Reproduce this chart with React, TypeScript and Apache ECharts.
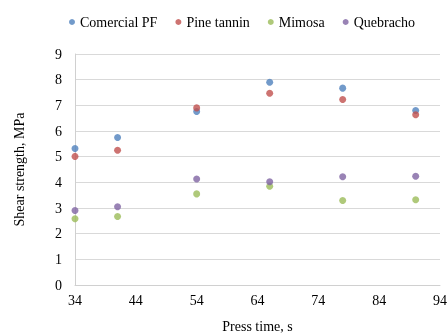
import React, { useEffect, useRef } from "react";
import * as echarts from "echarts";

const pressTime = [34, 41, 54, 66, 78, 90];
const comercialPF = [5.32, 5.75, 6.76, 7.9, 7.67, 6.8];
const pineTannin = [5.01, 5.25, 6.9, 7.47, 7.23, 6.63];
const mimosa = [2.58, 2.67, 3.55, 3.85, 3.29, 3.32];
const quebracho = [2.9, 3.05, 4.13, 4.02, 4.22, 4.24];
const seriesNames = ["Comercial PF", "Pine tannin", "Mimosa", "Quebracho"];
const colors = ["#4F81BD", "#C0504D", "#9BBB59", "#8064A2"];
const xStart = 34;

export default function App() {
  const ref = useRef<HTMLDivElement>(null);
  useEffect(() => {
    if (!ref.current) return;
    const chart = echarts.init(ref.current, null, { renderer: "svg" });
    const all = [comercialPF, pineTannin, mimosa, quebracho];
    const font = "Liberation Serif";
    chart.setOption({
      animation: false,
      color: colors,
      textStyle: { fontFamily: font },
      legend: {
        top: 10,
        left: 64,
        icon: "circle",
        itemWidth: 6,
        itemHeight: 6,
        itemGap: 18,
        textStyle: { fontFamily: font, fontSize: 14, color: "#000" },
        data: seriesNames,
      },
      grid: {
        left: 75,
        right: 7,
        top: 54,
        bottom: 50,
        containLabel: false,
        outerBoundsMode: "none",
      },
      xAxis: {
        type: "value",
        min: 0,
        max: 60,
        interval: 10,
        name: "Press time, s",
        nameLocation: "middle",
        nameGap: 34,
        nameTextStyle: { fontFamily: font, fontSize: 14, color: "#000" },
        axisLine: { show: true, lineStyle: { color: "#d0d0d0" } },
        axisTick: { show: false },
        splitLine: { show: false },
        axisLabel: {
          formatter: (v: number) => String(v + xStart),
          fontFamily: font,
          fontSize: 14,
          color: "#000",
          margin: 8,
        },
      },
      yAxis: {
        type: "value",
        min: 0,
        max: 9,
        interval: 1,
        name: "Shear strength, MPa",
        nameLocation: "middle",
        nameGap: 49,
        nameTextStyle: { fontFamily: font, fontSize: 14, color: "#000" },
        axisLine: { show: true, lineStyle: { color: "#d0d0d0" } },
        axisTick: { show: false },
        splitLine: { show: true, lineStyle: { color: "#d9d9d9" } },
        axisLabel: { fontFamily: font, fontSize: 14, color: "#000", margin: 13 },
      },
      series: all.map((vals, i) => ({
        name: seriesNames[i],
        type: "scatter",
        symbol: "circle",
        symbolSize: 7,
        data: vals.map((v, j) => [pressTime[j] - xStart, v]),
      })),
    });
    return () => chart.dispose();
  }, []);
  return (
    <div
      ref={ref}
      style={{ position: "fixed", left: 0, top: 0, width: 447, height: 335 }}
    />
  );
}
